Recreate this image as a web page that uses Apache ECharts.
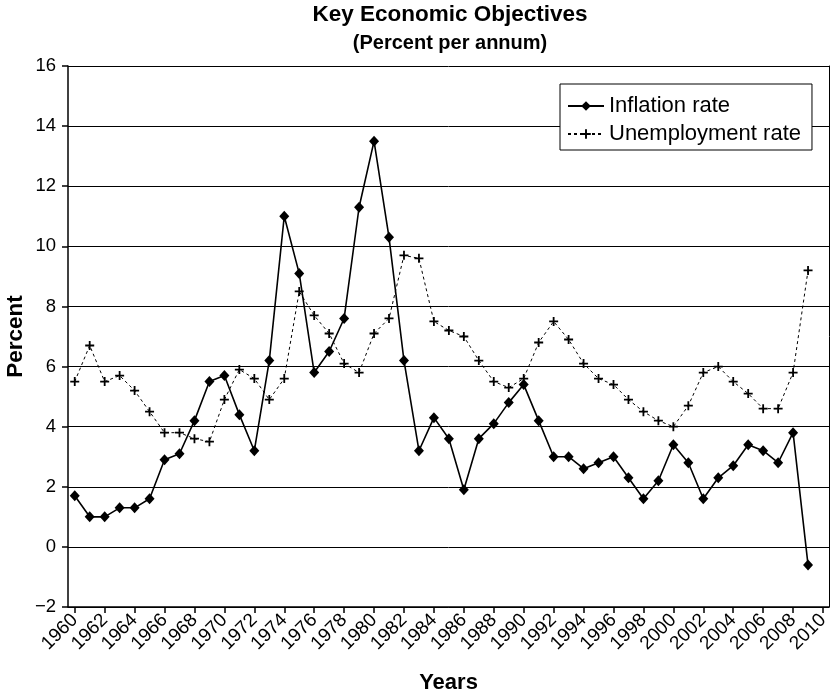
<!DOCTYPE html>
<html>
<head>
<meta charset="utf-8">
<script src="https://cdn.jsdelivr.net/npm/echarts@6/dist/echarts.min.js"></script>
<style>html,body{margin:0;padding:0;background:#fff;}#c{width:830px;height:696px;}</style>
</head>
<body>
<div id="c"></div>
<script>
const years = [1960,1961,1962,1963,1964,1965,1966,1967,1968,1969,1970,1971,1972,1973,1974,1975,1976,1977,1978,1979,1980,1981,1982,1983,1984,1985,1986,1987,1988,1989,1990,1991,1992,1993,1994,1995,1996,1997,1998,1999,2000,2001,2002,2003,2004,2005,2006,2007,2008,2009];
const inflation = [1.7,1.0,1.0,1.3,1.3,1.6,2.9,3.1,4.2,5.5,5.7,4.4,3.2,6.2,11.0,9.1,5.8,6.5,7.6,11.3,13.5,10.3,6.2,3.2,4.3,3.6,1.9,3.6,4.1,4.8,5.4,4.2,3.0,3.0,2.6,2.8,3.0,2.3,1.6,2.2,3.4,2.8,1.6,2.3,2.7,3.4,3.2,2.8,3.8,-0.6];
const unemployment = [5.5,6.7,5.5,5.7,5.2,4.5,3.8,3.8,3.6,3.5,4.9,5.9,5.6,4.9,5.6,8.5,7.7,7.1,6.1,5.8,7.1,7.6,9.7,9.6,7.5,7.2,7.0,6.2,5.5,5.3,5.6,6.8,7.5,6.9,6.1,5.6,5.4,4.9,4.5,4.2,4.0,4.7,5.8,6.0,5.5,5.1,4.6,4.6,5.8,9.2];
const xTicks = [1960,1962,1964,1966,1968,1970,1972,1974,1976,1978,1980,1982,1984,1986,1988,1990,1992,1994,1996,1998,2000,2002,2004,2006,2008,2010];
const yTicks = [-2,0,2,4,6,8,10,12,14,16];

const axisFont = 'Liberation Sans, Arial, sans-serif';
const plusPath = 'path://M4,0 H6 V4 H10 V6 H6 V10 H4 V6 H0 V4 H4 Z';

const chart = echarts.init(document.getElementById('c'), null, {renderer: 'canvas'});
chart.setOption({
  animation: false,
  backgroundColor: '#fff',
  title: [{
    text: 'Key Economic Objectives',
    left: 445, textAlign: 'center', top: -2,
    textStyle: {fontFamily: axisFont, fontWeight: 'bold', fontSize: 22.5, color: '#000'}
  }, {
    text: '(Percent per annum)',
    left: 445, textAlign: 'center', top: 28,
    textStyle: {fontFamily: axisFont, fontWeight: 'bold', fontSize: 20, color: '#000'}
  }],
  legend: {
    orient: 'vertical',
    left: 560, top: 84,
    backgroundColor: '#fff',
    borderColor: '#000', borderWidth: 1,
    padding: [11, 11, 5, 7],
    itemWidth: 36, itemHeight: 12, itemGap: 6,
    textStyle: {fontFamily: axisFont, fontSize: 22, color: '#000', lineHeight: 20},
    data: ['Inflation rate', 'Unemployment rate']
  },
  grid: {left: 68, right: 1, top: 66, bottom: 89, containLabel: false, outerBoundsMode: 'none'},
  xAxis: {
    type: 'value',
    min: 1959.55, max: 2010.4,
    name: 'Years', nameLocation: 'middle', nameGap: 65, nameMoveOverlap: false,
    nameTextStyle: {fontFamily: axisFont, fontWeight: 'bold', fontSize: 22, color: '#000'},
    axisLine: {show: true, onZero: false, lineStyle: {color: '#000', width: 1.5}},
    axisTick: {show: true, length: 6, lineStyle: {color: '#000', width: 1.5}, customValues: xTicks},
    axisLabel: {show: true, rotate: 45, fontFamily: axisFont, fontSize: 19, color: '#000', margin: 10, customValues: xTicks, formatter: v => String(v)},
    splitLine: {show: false}
  },
  yAxis: [{
    type: 'value',
    min: yTicks[0], max: yTicks[yTicks.length - 1], interval: 2,
    name: 'Percent', nameLocation: 'middle', nameGap: 41, nameRotate: 90, nameMoveOverlap: false,
    nameTextStyle: {fontFamily: axisFont, fontWeight: 'bold', fontSize: 22.5, color: '#000'},
    axisLine: {show: true, lineStyle: {color: '#000', width: 1.5}},
    axisTick: {show: true, length: 6, lineStyle: {color: '#000', width: 1.5}},
    axisLabel: {fontFamily: axisFont, fontSize: 18.5, color: '#000', margin: 12,
      formatter: v => (v < 0 ? '\u2212' + Math.abs(v) : String(v))},
    splitLine: {show: true, lineStyle: {color: '#000', width: 1}}
  }, {
    type: 'value', position: 'right',
    min: yTicks[0], max: yTicks[yTicks.length - 1], interval: 2,
    axisLine: {show: true, lineStyle: {color: '#000', width: 1}},
    axisTick: {show: false}, axisLabel: {show: false}, splitLine: {show: false}
  }],
  series: [{
    name: 'Inflation rate',
    type: 'line',
    data: years.map((y, i) => [y, inflation[i]]),
    symbol: 'diamond', symbolSize: [10, 11],
    itemStyle: {color: '#000'},
    lineStyle: {color: '#000', width: 1.6},
    z: 3
  }, {
    name: 'Unemployment rate',
    type: 'line',
    data: years.map((y, i) => [y, unemployment[i]]),
    symbol: plusPath, symbolSize: 9,
    itemStyle: {color: '#000'},
    lineStyle: {color: '#000', width: 1, type: [3, 3]},
    z: 2
  }]
});
</script>
</body>
</html>
